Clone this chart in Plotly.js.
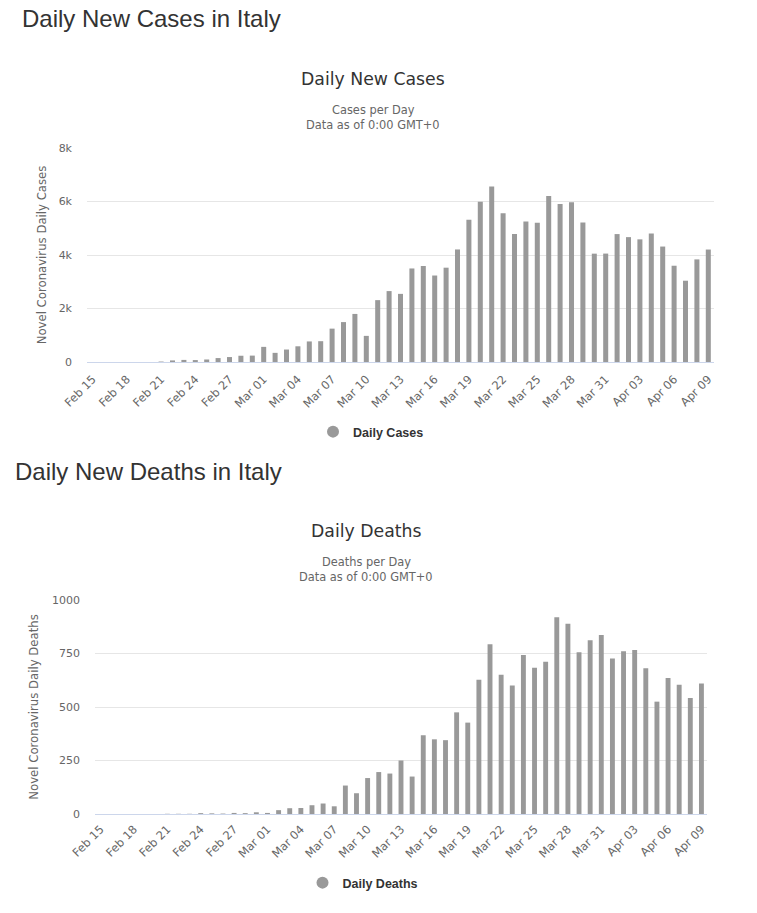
<!DOCTYPE html>
<html>
<head>
<meta charset="utf-8">
<script src="https://cdn.plot.ly/plotly-3.0.1.min.js"></script>
<style>
  html, body { margin: 0; padding: 0; background: #fff; }
  #chart { width: 757px; height: 913px; }
</style>
</head>
<body>
<div id="chart"></div>
<script>
// ---- data ----
const dates = ["Feb 15","Feb 16","Feb 17","Feb 18","Feb 19","Feb 20","Feb 21","Feb 22","Feb 23","Feb 24",
  "Feb 25","Feb 26","Feb 27","Feb 28","Feb 29","Mar 01","Mar 02","Mar 03","Mar 04","Mar 05",
  "Mar 06","Mar 07","Mar 08","Mar 09","Mar 10","Mar 11","Mar 12","Mar 13","Mar 14","Mar 15",
  "Mar 16","Mar 17","Mar 18","Mar 19","Mar 20","Mar 21","Mar 22","Mar 23","Mar 24","Mar 25",
  "Mar 26","Mar 27","Mar 28","Mar 29","Mar 30","Mar 31","Apr 01","Apr 02","Apr 03","Apr 04",
  "Apr 05","Apr 06","Apr 07","Apr 08","Apr 09"];

const dailyCases = [0,0,0,0,0,0,17,59,78,72,
  94,147,185,234,239,566,342,466,587,769,
  778,1247,1492,1797,977,2313,2651,2547,3497,3590,
  3233,3526,4207,5322,5986,6557,5560,4789,5249,5210,
  6203,5909,5974,5217,4050,4053,4782,4668,4585,4805,
  4316,3599,3039,3836,4204];

const dailyDeaths = [0,0,0,0,0,0,1,1,1,4,
  3,2,5,4,8,5,18,27,28,41,
  49,36,133,97,168,196,189,250,175,368,
  349,345,475,427,627,793,651,601,743,683,
  712,919,889,756,812,837,727,760,766,681,
  525,636,604,542,610];

const casesTickVals = [0,2000,4000,6000,8000];
const casesTickText = ["0","2k","4k","6k","8k"];
const deathsTickVals = [0,250,500,750,1000];

const xTickVals = dates.filter((d, i) => i % 3 === 0);

// ---- layout helpers (page pixels -> paper) ----
const W = 757, H = 913;
const px = x => x / W;
const py = y => 1 - y / H;

const barColor = '#999999';
const gridColor = '#e6e6e6';
const axisLineColor = '#ccd6eb';
const labelColor = '#666666';
const chartFont = 'DejaVu Sans, Verdana, sans-serif';
const legendFont = { family: 'Liberation Sans Narrow, Arial Narrow, sans-serif', size: 12.5, color: '#333333', weight: 'bold' };

const traces = [
  { type: 'bar', x: dates, y: dailyCases, marker: { color: barColor }, xaxis: 'x', yaxis: 'y',
    showlegend: false, hoverinfo: 'skip' },
  { type: 'scatter', mode: 'markers', x: [null], y: [null], name: 'Daily Cases',
    marker: { color: barColor, size: 12, symbol: 'circle' }, xaxis: 'x', yaxis: 'y', legend: 'legend' },
  { type: 'bar', x: dates, y: dailyDeaths, marker: { color: barColor }, xaxis: 'x2', yaxis: 'y2',
    showlegend: false, hoverinfo: 'skip' },
  { type: 'scatter', mode: 'markers', x: [null], y: [null], name: 'Daily Deaths',
    marker: { color: barColor, size: 12, symbol: 'circle' }, xaxis: 'x2', yaxis: 'y2', legend: 'legend2' }
];

function xAxis(domain, anchor, standoff) {
  return {
    domain: domain, anchor: anchor, type: 'category',
    categoryorder: 'array', categoryarray: dates,
    tickmode: 'array', tickvals: xTickVals, tickangle: -45,
    tickfont: { family: chartFont, size: 11.5, color: labelColor },
    ticklabelstandoff: standoff,
    showgrid: false, showline: true, linecolor: axisLineColor, linewidth: 1,
    ticks: '', zeroline: false, fixedrange: true
  };
}

function yAxis(domain, anchor, range, tv, tt, title, standoff, labelStandoff) {
  return {
    domain: domain, anchor: anchor, range: range,
    tickmode: 'array', tickvals: tv, ticktext: tt,
    tickfont: { family: chartFont, size: 11, color: labelColor },
    showgrid: true, gridcolor: gridColor, gridwidth: 1,
    zeroline: false, showline: false, ticks: '', ticklabelstandoff: labelStandoff,
    title: { text: title, font: { family: chartFont, size: 11.7, color: labelColor }, standoff: standoff },
    fixedrange: true
  };
}

const ann = (text, x, y, size, color, family, anchor) => ({
  text: text, xref: 'paper', yref: 'paper', x: px(x), y: py(y),
  xanchor: anchor || 'center', yanchor: 'middle', showarrow: false,
  font: { family: family || chartFont, size: size, color: color }
});

const layout = {
  width: W, height: H,
  margin: { l: 0, r: 0, t: 0, b: 0 },
  paper_bgcolor: '#ffffff', plot_bgcolor: '#ffffff',
  bargap: 0.56,
  showlegend: true,
  font: { family: chartFont },
  xaxis: xAxis([px(87), px(714)], 'y', 5),
  yaxis: yAxis([py(362), py(148)], 'x', [0, 8000], casesTickVals, casesTickText,
               'Novel Coronavirus Daily Cases', 9, 14),
  xaxis2: xAxis([px(95), px(707)], 'y2', 3),
  yaxis2: yAxis([py(814), py(600)], 'x2', [0, 1000], deathsTickVals, deathsTickVals.map(String),
               'Novel Coronavirus Daily Deaths', 10, 14),
  legend: {
    x: px(371), y: py(432), xanchor: 'center', yanchor: 'middle', orientation: 'h',
    font: legendFont, bgcolor: 'rgba(0,0,0,0)', itemclick: false, itemdoubleclick: false
  },
  legend2: {
    x: px(363), y: py(883), xanchor: 'center', yanchor: 'middle', orientation: 'h',
    font: legendFont, bgcolor: 'rgba(0,0,0,0)', itemclick: false, itemdoubleclick: false
  },
  annotations: [
    ann('Daily New Cases in Italy', 20, 19, 24, '#333333', 'Liberation Sans, Arial, sans-serif', 'left'),
    ann('Daily New Cases', 373, 79, 17.3, '#333333'),
    ann('Cases per Day', 373, 110, 11.4, labelColor),
    ann('Data as of 0:00 GMT+0', 373, 125, 11.4, labelColor),
    ann('Daily New Deaths in Italy', 13, 471, 24, '#333333', 'Liberation Sans, Arial, sans-serif', 'left'),
    ann('Daily Deaths', 366, 531, 17.3, '#333333'),
    ann('Deaths per Day', 366, 562, 11.4, labelColor),
    ann('Data as of 0:00 GMT+0', 366, 577, 11.4, labelColor)
  ]
};

Plotly.newPlot('chart', traces, layout, { displayModeBar: false, staticPlot: true });
</script>
</body>
</html>
